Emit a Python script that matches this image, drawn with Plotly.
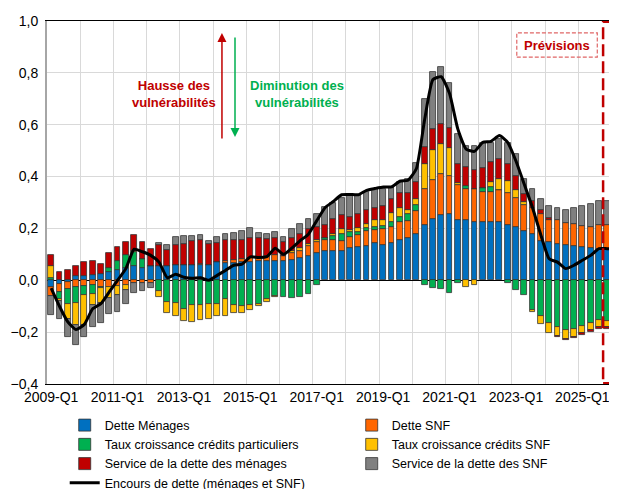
import plotly.graph_objects as go

quarters = [f"{y}-Q{q}" for y in range(2009, 2027) for q in range(1, 5)][:69]

dette_menages = [-0.026, -0.013, -0.006, 0.015, 0.015, 0.019, 0.023, 0.032, 0.038, 0.049,
                 0.054, 0.049, 0.054, 0.054, 0.054, 0.058, 0.058, 0.058, 0.058, 0.058,
                 0.070, 0.067, 0.067, 0.069, 0.069, 0.073, 0.073, 0.073, 0.076, 0.078,
                 0.086, 0.095, 0.104, 0.114, 0.114, 0.114, 0.123, 0.130, 0.132, 0.142,
                 0.138, 0.142, 0.155, 0.164, 0.177, 0.213, 0.235, 0.251, 0.256, 0.233,
                 0.231, 0.224, 0.224, 0.224, 0.224, 0.212, 0.205, 0.192, 0.179, 0.151,
                 0.147, 0.141, 0.135, 0.131, 0.128, 0.126, 0.122, 0.122, 0.122]

dette_snf = [-0.036, -0.032, -0.026, -0.026, -0.023, -0.019, -0.026, -0.026, -0.023, -0.019,
             -0.010, -0.010, -0.010, 0.0, 0.0, 0.0, 0.0, 0.0, 0.003, 0.0,
             0.0, 0.008, 0.010, 0.014, 0.017, 0.015, 0.022, 0.024, 0.019, 0.026,
             0.026, 0.037, 0.045, 0.041, 0.042, 0.038, 0.045, 0.045, 0.058, 0.051,
             0.059, 0.064, 0.068, 0.064, 0.090, 0.141, 0.151, 0.160, 0.147, 0.136,
             0.122, 0.128, 0.118, 0.118, 0.124, 0.124, 0.113, 0.099, 0.100, 0.103,
             0.086, 0.090, 0.086, 0.087, 0.083, 0.079, 0.090, 0.090, 0.090]

taux_particuliers = [0.010, -0.027, -0.058, -0.062, -0.035, -0.035, -0.005, 0.017, 0.036, 0.047,
                     0.055, 0.035, 0.0, -0.042, -0.083, -0.087, -0.109, -0.096, -0.096, -0.092,
                     -0.090, -0.074, -0.096, -0.100, -0.094, -0.090, -0.071, -0.062, -0.065, -0.068,
                     -0.065, -0.053, -0.017, 0.008, 0.015, 0.026, 0.017, 0.010, 0.013, 0.013,
                     0.013, 0.017, 0.022, 0.026, 0.023, -0.018, -0.031, -0.035, -0.049, -0.010,
                     0.009, 0.0, 0.014, 0.019, 0.0, -0.010, -0.036, -0.055, -0.114, -0.138,
                     -0.164, -0.182, -0.190, -0.186, -0.177, -0.164, -0.154, -0.156, -0.160]

taux_snf = [0.045, -0.009, -0.058, -0.086, -0.115, -0.042, -0.058, -0.041, -0.035, -0.017,
            0.003, 0.0, 0.0, -0.024, -0.045, -0.051, -0.049, -0.064, -0.058, -0.059,
            -0.049, -0.064, -0.032, -0.028, -0.019, -0.009, -0.013, -0.004, 0.0, 0.010,
            0.013, 0.008, 0.006, 0.0, 0.009, 0.019, 0.009, 0.015, 0.013, 0.026,
            0.022, 0.035, 0.035, 0.019, 0.023, 0.094, 0.118, 0.115, 0.109, 0.005,
            -0.026, -0.019, 0.0, 0.019, 0.042, 0.046, 0.031, 0.010, -0.010, -0.031,
            -0.038, -0.033, -0.035, -0.032, -0.028, -0.026, -0.026, -0.026, -0.022]

service_menages = [0.042, 0.032, 0.041, 0.042, 0.055, 0.055, 0.041, 0.056, 0.054, 0.051,
                   0.064, 0.064, 0.068, 0.081, 0.064, 0.077, 0.081, 0.092, 0.096, 0.081,
                   0.073, 0.079, 0.077, 0.073, 0.079, 0.074, 0.064, 0.068, 0.051, 0.049,
                   0.054, 0.058, 0.051, 0.051, 0.055, 0.055, 0.051, 0.054, 0.055, 0.047,
                   0.055, 0.055, 0.055, 0.065, 0.067, 0.067, 0.081, 0.077, 0.077, 0.075,
                   0.074, 0.073, 0.077, 0.078, 0.077, 0.067, 0.055, 0.030, 0.025, 0.018,
                   0.008, -0.005, -0.006, -0.006, -0.006, -0.009, -0.006, -0.005, -0.005]

service_snf = [-0.073, -0.070, -0.070, -0.077, -0.047, -0.083, -0.077, -0.064, -0.064, -0.054,
               -0.038, -0.030, -0.018, 0.009, 0.020, 0.032, 0.032, 0.022, 0.018, 0.013,
               0.023, 0.026, 0.028, 0.036, 0.038, 0.019, 0.019, 0.023, 0.022, 0.035,
               0.038, 0.038, 0.051, 0.069, 0.064, 0.067, 0.083, 0.074, 0.071, 0.074,
               0.067, 0.047, 0.045, 0.051, 0.074, 0.183, 0.220, 0.218, 0.170, 0.115,
               0.083, 0.094, 0.095, 0.073, 0.077, 0.081, 0.083, 0.058, 0.047, 0.042,
               0.045, 0.047, 0.051, 0.062, 0.077, 0.090, 0.094, 0.094, 0.094]

encours = [-0.03, -0.10, -0.16, -0.19, -0.17, -0.11, -0.09, -0.045, 0.0, 0.045,
           0.12, 0.11, 0.096, 0.07, 0.01, 0.023, 0.012, 0.008, 0.01, 0.0,
           0.019, 0.038, 0.058, 0.062, 0.09, 0.088, 0.091, 0.124, 0.10, 0.124,
           0.153, 0.178, 0.23, 0.28, 0.304, 0.33, 0.331, 0.33, 0.347, 0.354,
           0.36, 0.36, 0.382, 0.386, 0.43, 0.62, 0.774, 0.785, 0.72, 0.583,
           0.506, 0.497, 0.532, 0.536, 0.558, 0.532, 0.46, 0.37, 0.28, 0.175,
           0.083, 0.07, 0.045, 0.058, 0.077, 0.096, 0.122, 0.122, 0.122]

y_ticks = [-0.4, -0.2, 0.0, 0.2, 0.4, 0.6, 0.8, 1.0]

FONT = "Liberation Sans, Arial, sans-serif"
x = list(range(len(quarters)))

series = [
    ("Dette Ménages", dette_menages, "#0070C0"),
    ("Dette SNF", dette_snf, "#FF6600"),
    ("Taux croissance crédits particuliers", taux_particuliers, "#00B050"),
    ("Taux croissance crédits SNF", taux_snf, "#FFC000"),
    ("Service de la dette des ménages", service_menages, "#C00000"),
    ("Service de la dette des SNF", service_snf, "#808080"),
]

fig = go.Figure()
for name, vals, col in series:
    fig.add_bar(x=x, y=vals, name=name, width=0.7, customdata=quarters,
                marker=dict(color=col, line=dict(color="#333333", width=0.8)))
fig.add_scatter(x=x, y=encours, mode="lines", name="Encours de dette (ménages et SNF)",
                customdata=quarters,
                line=dict(color="black", width=3, shape="spline", smoothing=0.5))

# the page body adds an 8px offset: figure is 609x481 so it fills the 617x489 window
fig.update_layout(
    width=609, height=481,
    margin=dict(l=39, r=0, t=13, b=105, autoexpand=False),
    barmode="relative", bargap=0,
    plot_bgcolor="white", paper_bgcolor="white",
    separators=", ",
    font=dict(family=FONT, size=14, color="black"),
    showlegend=True,
    legend=dict(orientation="h", x=-0.0005, xanchor="left", y=-0.073, yanchor="top",
                font=dict(size=12.5, family=FONT), entrywidth=224, entrywidthmode="pixels",
                indentation=18, traceorder="normal", bgcolor="rgba(0,0,0,0)"),
)

fig.update_xaxes(
    range=[-0.5, -0.5 + 570 / 8.3],
    tickmode="array", tickvals=x[::8], ticktext=quarters[::8],
    showgrid=False, zeroline=False,
    showline=True, linecolor="black", linewidth=1, mirror=True,
    ticks="", tickfont=dict(size=14),
    minor=dict(tick0=-0.5, dtick=4, showgrid=True, gridcolor="#d9d9d9", gridwidth=1, ticks=""),
)
fig.update_yaxes(
    range=[-0.4, 1.0], tickmode="array", tickvals=y_ticks, tickformat=".1f",
    showgrid=True, gridcolor="#d9d9d9", gridwidth=1,
    zeroline=True, zerolinecolor="black", zerolinewidth=1.2,
    showline=True, linecolor="#a6a6a6", linewidth=2,
    ticks="", tickfont=dict(size=14), ticklabelstandoff=4,
)

# Forecast area
fig.add_shape(type="rect", xref="x", yref="y", x0=66.5, x1=70, y0=-0.397, y1=0.997,
              line=dict(color="#C00000", width=2.5, dash="12px,5px"), layer="above")
fig.add_shape(type="rect", xref="x", yref="y", x0=56.1, x1=65.8, y0=0.861, y1=0.954,
              line=dict(color="#E06666", width=1.2, dash="4px,2px"), layer="above")
fig.add_annotation(x=60.95, y=0.907, xref="x", yref="y", text="<b>Prévisions</b>",
                   showarrow=False, font=dict(size=13, color="#C00000", family=FONT))

# Vulnerability annotations
fig.add_annotation(x=14.8, y=0.717, xref="x", yref="y", text="<b>Hausse des<br>vulnérabilités</b>",
                   showarrow=False, align="center", font=dict(size=13, color="#C00000", family=FONT))
fig.add_annotation(x=29.6, y=0.717, xref="x", yref="y", text="<b>Diminution des<br>vulnérabilités</b>",
                   showarrow=False, align="center", font=dict(size=13, color="#00B050", family=FONT))
fig.add_annotation(x=20.58, y=0.954, xref="x", yref="y", ax=0, ay=107, axref="pixel", ayref="pixel",
                   text="", showarrow=True, arrowhead=2, arrowsize=1.2, arrowwidth=1.5, arrowcolor="#C00000")
fig.add_annotation(x=22.15, y=0.553, xref="x", yref="y", ax=0, ay=-101, axref="pixel", ayref="pixel",
                   text="", showarrow=True, arrowhead=2, arrowsize=1.2, arrowwidth=1.5, arrowcolor="#00B050")

fig.write_html("out.html")
